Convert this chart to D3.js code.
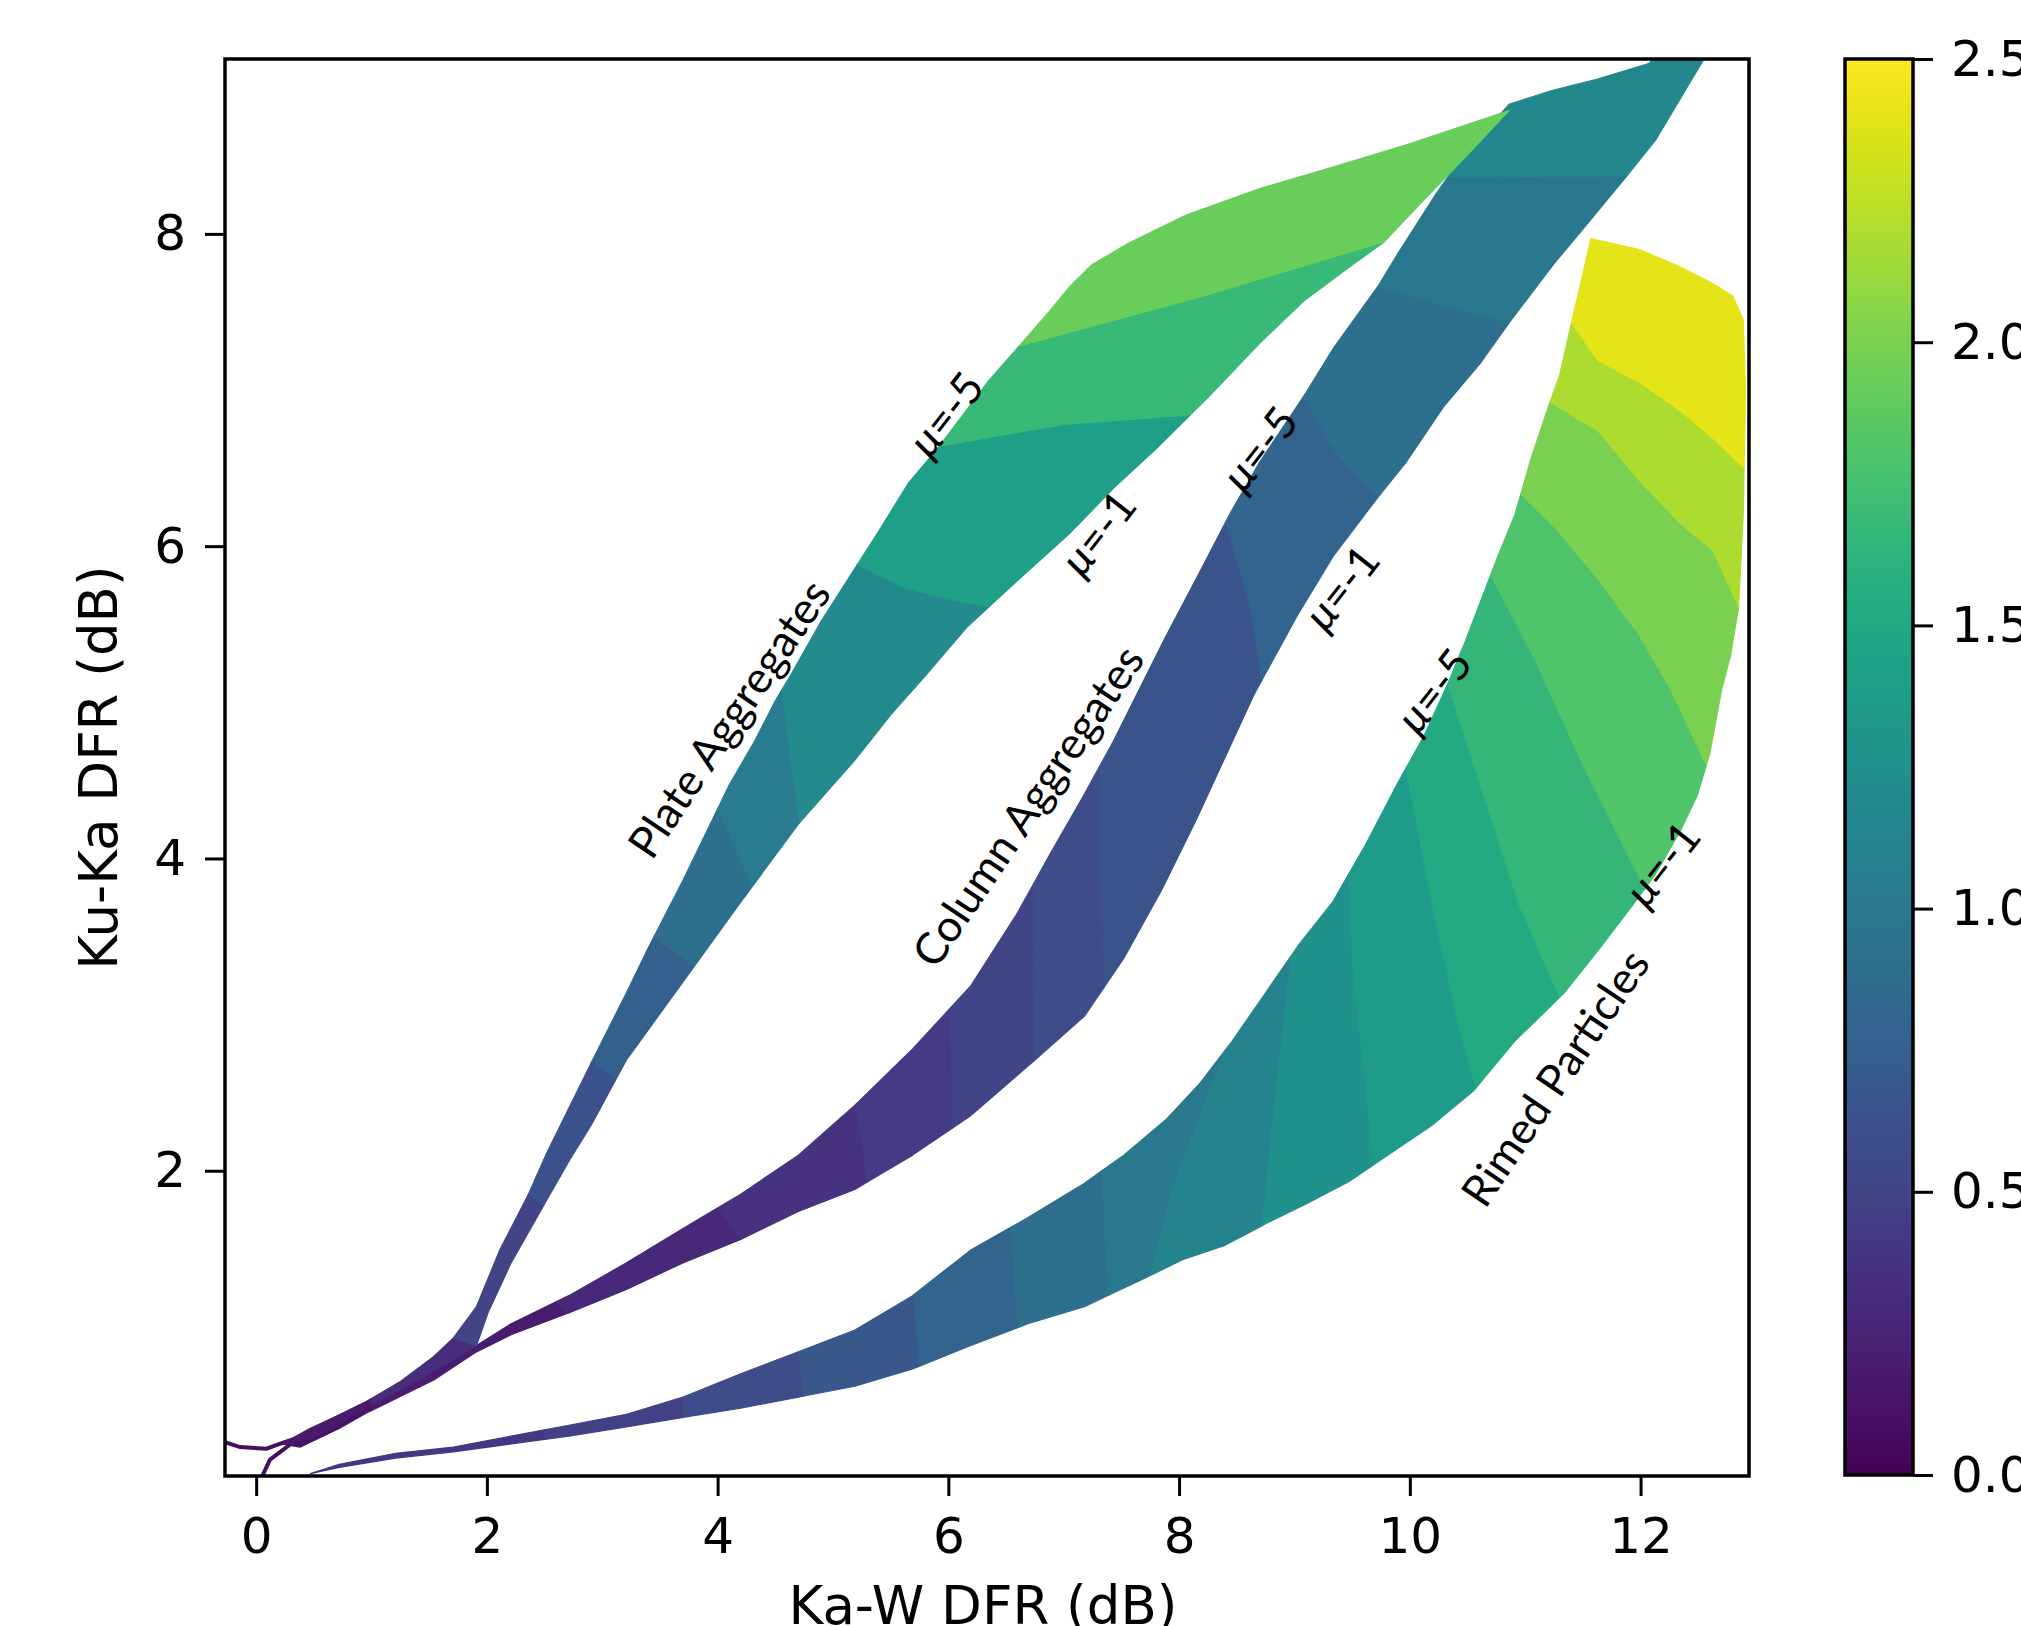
<!DOCTYPE html>
<html><head><meta charset="utf-8">
<script src="https://cdn.jsdelivr.net/npm/d3@7"></script>
<style>body{margin:0;background:#fff}</style>
</head><body>
<svg id="c" width="2021" height="1626" xmlns="http://www.w3.org/2000/svg"></svg>
<script>
// ---------- axes ----------
const xDomain = [-0.27, 12.94];
const yDomain = [0.045, 9.12];
const xTicks = [0, 2, 4, 6, 8, 10, 12];
const yTicks = [2, 4, 6, 8];
const cDomain = [0, 2.5];
const cTicks = [0, 0.5, 1, 1.5, 2, 2.5];

// ---------- Plate Aggregates (Ka-W DFR, Ku-Ka DFR) ----------
const plateM5 = [[0.22,0.25],[0.47,0.35],[0.67,0.42],[0.95,0.52],[1.25,0.65],[1.54,0.81],[1.71,0.93],[1.91,1.13],[2.11,1.49],[2.36,1.85],[2.51,2.10],[2.71,2.40],[2.91,2.70],[3.21,3.14],[3.40,3.43],[3.70,3.86],[4.10,4.47],[4.32,4.75],[4.50,5.01],[4.63,5.17],[4.89,5.51],[5.14,5.80],[5.40,6.10],[5.65,6.40],[5.90,6.62],[6.35,7.06],[6.60,7.27],[6.86,7.49],[7.05,7.66],[7.24,7.80],[7.56,7.94],[8.06,8.12],[8.70,8.29],[9.34,8.43],[9.97,8.57],[10.86,8.79]];
const plateM1 = [[0.22,0.25],[0.50,0.29],[1.00,0.50],[1.50,0.70],[1.91,0.88],[2.01,1.09],[2.21,1.41],[2.41,1.67],[2.71,2.06],[2.91,2.30],[3.21,2.71],[3.70,3.21],[4.20,3.72],[4.70,4.22],[5.19,4.63],[5.50,4.92],[5.80,5.17],[6.16,5.48],[6.54,5.74],[7.05,6.08],[7.43,6.37],[7.81,6.63],[8.26,6.96],[8.70,7.30],[9.08,7.57],[9.50,7.80],[9.78,7.95],[10.10,8.20],[10.48,8.49],[10.86,8.79]];
const plateBounds = [
  {a:[1.00,0.54], b:[1.00,0.50]},
  {a:[1.71,0.93], b:[1.91,0.88]},
  {a:[2.36,1.85], b:[2.50,1.78]},
  {a:[2.91,2.70], b:[3.10,2.60]},
  {a:[3.45,3.50], b:[3.80,3.31]},
  {a:[4.00,4.32], b:[4.30,3.82]},
  {a:[4.56,5.08], mid:[[4.63,4.65]], b:[4.71,4.23]},
  {a:[5.22,5.88], mid:[[5.60,5.74],[5.95,5.67]], b:[6.35,5.61]},
  {a:[5.92,6.64], mid:[[7.00,6.78]], b:[8.10,6.84]},
  {a:[6.62,7.28], mid:[[8.20,7.60]], b:[9.78,7.95]}
];
const plateValues = [0.18, 0.32, 0.50, 0.62, 0.76, 0.90, 1.03, 1.19, 1.40, 1.68, 1.93];

// ---------- Column Aggregates ----------
const columnM5 = [[0.22,0.25],[0.67,0.40],[1.25,0.60],[1.65,0.78],[1.91,0.88],[2.21,1.02],[2.71,1.20],[3.21,1.41],[3.70,1.63],[4.20,1.85],[4.70,2.10],[5.19,2.42],[5.69,2.78],[6.19,3.18],[6.59,3.64],[6.89,4.04],[7.17,4.40],[7.43,4.75],[7.87,5.40],[8.19,5.85],[8.45,6.22],[8.70,6.54],[9.08,6.96],[9.34,7.27],[9.72,7.66],[9.91,7.89],[10.23,8.26],[10.48,8.52],[10.86,8.83],[11.24,8.92],[11.62,8.99],[12.07,9.09],[12.30,9.25]];
const columnM1 = [[0.22,0.25],[0.38,0.23],[0.72,0.35],[0.96,0.45],[1.21,0.54],[1.54,0.66],[1.91,0.84],[2.21,0.95],[2.71,1.09],[3.21,1.24],[3.70,1.41],[4.20,1.56],[4.70,1.74],[5.19,1.88],[5.69,2.10],[6.19,2.35],[6.69,2.67],[7.18,2.99],[7.52,3.36],[7.85,3.80],[8.15,4.25],[8.40,4.65],[8.65,5.05],[9.02,5.55],[9.34,5.94],[9.72,6.31],[9.97,6.54],[10.29,6.89],[10.61,7.17],[10.86,7.43],[11.24,7.80],[11.50,8.03],[11.88,8.37],[12.13,8.60],[12.55,9.12],[12.62,9.25]];
const columnBounds = [
  {a:[1.00,0.53], b:[1.00,0.47]},
  {a:[2.60,1.16], b:[2.70,1.09]},
  {a:[4.00,1.76], b:[4.20,1.56]},
  {a:[5.20,2.43], b:[5.30,1.93]},
  {a:[6.04,3.03], b:[6.04,2.27]},
  {a:[6.74,3.84], b:[6.74,2.70]},
  {a:[7.30,4.58], b:[7.35,3.17]},
  {a:[8.40,6.16], mid:[[8.62,5.60]], b:[8.72,5.14]},
  {a:[9.08,6.96], mid:[[9.34,6.62]], b:[9.72,6.31]},
  {a:[9.72,7.66], b:[10.86,7.43]},
  {a:[10.35,8.36], b:[11.88,8.37]}
];
const columnValues = [0.13, 0.20, 0.28, 0.36, 0.43, 0.50, 0.57, 0.64, 0.80, 0.90, 1.00, 1.16];

// ---------- Rimed Particles ----------
const rimedM5 = [[0.47,0.06],[0.72,0.12],[1.21,0.19],[1.71,0.23],[2.21,0.30],[2.71,0.37],[3.21,0.44],[3.70,0.55],[4.20,0.70],[4.70,0.84],[5.19,0.98],[5.69,1.20],[6.19,1.49],[6.69,1.70],[7.18,1.92],[7.52,2.10],[7.89,2.33],[8.18,2.56],[8.46,2.83],[8.75,3.14],[9.04,3.45],[9.33,3.72],[9.61,4.08],[9.90,4.49],[10.12,4.78],[10.33,5.12],[10.48,5.39],[10.62,5.66],[10.76,5.93],[10.91,6.20],[11.05,6.56],[11.19,6.87],[11.30,7.10],[11.41,7.46],[11.48,7.68],[11.57,7.97]];
const rimedM1 = [[0.47,0.06],[0.72,0.10],[1.21,0.16],[1.71,0.20],[2.21,0.25],[2.71,0.30],[3.21,0.36],[3.70,0.42],[4.20,0.48],[4.70,0.55],[5.19,0.62],[5.69,0.73],[6.19,0.88],[6.69,1.02],[7.18,1.13],[7.67,1.30],[8.03,1.43],[8.39,1.52],[8.75,1.66],[9.11,1.79],[9.47,1.93],[9.83,2.11],[10.19,2.29],[10.55,2.51],[10.91,2.83],[11.34,3.14],[11.63,3.41],[11.91,3.68],[12.13,3.90],[12.34,4.17],[12.49,4.40],[12.60,4.67],[12.70,5.07],[12.78,5.30],[12.85,5.61],[12.89,6.20],[12.91,7.00],[12.89,7.45],[12.80,7.60],[12.63,7.68],[12.34,7.79],[11.99,7.90],[11.57,7.97]];
const rimedBounds = [
  {a:[2.50,0.34], b:[2.50,0.28]},
  {a:[3.70,0.55], b:[3.70,0.42]},
  {a:[4.70,0.84], b:[4.75,0.56]},
  {a:[5.70,1.21], b:[5.75,0.75]},
  {a:[6.55,1.64], b:[6.60,1.00]},
  {a:[7.33,2.00], b:[7.39,1.20]},
  {a:[8.39,2.77], mid:[[7.95,1.90]], b:[7.75,1.33]},
  {a:[8.97,3.38], mid:[[8.82,2.38]], b:[8.72,1.65]},
  {a:[9.47,3.90], mid:[[9.51,3.28],[9.61,2.60]], b:[9.69,2.04]},
  {a:[9.97,4.58], mid:[[10.19,3.72],[10.42,2.95]], b:[10.58,2.53]},
  {a:[10.33,5.12], mid:[[10.60,4.50],[10.95,3.70]], b:[11.30,3.11]},
  {a:[10.70,5.82], mid:[[11.10,5.25],[11.50,4.60]], b:[12.05,3.80]},
  {a:[10.98,6.33], mid:[[11.27,6.11],[11.63,5.79],[11.99,5.43],[12.27,5.07]], b:[12.56,4.60]},
  {a:[11.23,6.92], mid:[[11.63,6.74],[11.99,6.42],[12.34,6.15],[12.63,5.97]], b:[12.85,5.61]},
  {a:[11.41,7.43], mid:[[11.63,7.19],[11.99,7.05],[12.34,6.87],[12.63,6.69]], b:[12.90,6.50]}
];
const rimedValues = [0.40, 0.48, 0.57, 0.68, 0.80, 0.90, 1.00, 1.12, 1.25, 1.37, 1.52, 1.66, 1.81, 2.00, 2.19, 2.40];

// ---------- thin degenerate tails near origin ----------
const tailLineA = [[-0.30,0.27],[-0.14,0.23],[0.09,0.22],[0.24,0.26],[0.32,0.28]];
const tailLineB = [[0.05,0.04],[0.12,0.15],[0.21,0.20],[0.30,0.25]];
const tailValue = 0.08;

// ---------- annotations ----------
const labels = [
  {t:"Plate Aggregates", x:4.09, y:4.90, a:-56},
  {t:"Column Aggregates", x:6.68, y:4.34, a:-56},
  {t:"Rimed Particles", x:11.25, y:2.60, a:-56}
];
const muLabels = [
  {v:"-5", x:5.97, y:6.85, a:-52},
  {v:"-1", x:7.29, y:6.09, a:-52},
  {v:"-5", x:8.69, y:6.63, a:-52},
  {v:"-1", x:9.40, y:5.74, a:-52},
  {v:"-5", x:10.20, y:5.08, a:-52},
  {v:"-1", x:12.18, y:3.97, a:-52}
];

// ================= drawing =================
const svg = d3.select('#c');
const P = {l:225, r:1749, t:59, b:1476};
const x = d3.scaleLinear().domain(xDomain).range([P.l, P.r]);
const y = d3.scaleLinear().domain(yDomain).range([P.b, P.t]);
const cScale = d3.scaleLinear().domain(cDomain).range([1475, 59]);
const color = v => d3.interpolateViridis((v - cDomain[0]) / (cDomain[1] - cDomain[0]));

const defs = svg.append('defs');
defs.append('clipPath').attr('id','plotclip').append('rect')
  .attr('x',P.l).attr('y',P.t).attr('width',P.r-P.l).attr('height',P.b-P.t);

function project(line, p){
  let best = Infinity, bs = 0;
  const px = x(p[0]), py = y(p[1]);
  for (let i=0;i<line.length-1;i++){
    const ax=x(line[i][0]), ay=y(line[i][1]), bx=x(line[i+1][0]), by=y(line[i+1][1]);
    const dx=bx-ax, dy=by-ay, L=dx*dx+dy*dy;
    let t = L ? ((px-ax)*dx+(py-ay)*dy)/L : 0;
    t = Math.max(0, Math.min(1, t));
    const qx=ax+t*dx, qy=ay+t*dy, d=(px-qx)**2+(py-qy)**2;
    if (d < best){ best=d; bs=i+t; }
  }
  return bs;
}
function pointAt(line, s){
  const i = Math.min(Math.floor(s), line.length-2), t = s - i;
  const a=line[i], b=line[i+1];
  return [a[0]+(b[0]-a[0])*t, a[1]+(b[1]-a[1])*t];
}
function sub(line, s1, s2){
  const pts=[pointAt(line,s1)];
  for (let i=Math.ceil(s1); i<=Math.floor(s2); i++) if (i>s1 && i<s2) pts.push(line[i]);
  pts.push(pointAt(line,s2));
  return pts;
}
function bands(A, B, bounds, values){
  const bs = [{sa:0, sb:0, mid:[]}]
    .concat(bounds.map(d => ({sa:project(A,d.a), sb:project(B,d.b), mid:d.mid||[]})))
    .concat([{sa:A.length-1, sb:B.length-1, mid:[]}]);
  const out=[];
  for (let j=0;j<bs.length-1;j++){
    const lo=bs[j], hi=bs[j+1];
    const poly = sub(A, lo.sa, hi.sa)
      .concat(hi.mid)
      .concat(sub(B, lo.sb, hi.sb).reverse())
      .concat(lo.mid.slice().reverse());
    out.push({poly, v:values[j]});
  }
  return out;
}

const regions = [
  {A:rimedM5, B:rimedM1, bounds:rimedBounds, values:rimedValues},
  {A:columnM5, B:columnM1, bounds:columnBounds, values:columnValues},
  {A:plateM5, B:plateM1, bounds:plateBounds, values:plateValues}
];
const line = d3.line().x(d=>x(d[0])).y(d=>y(d[1]));
const gPlot = svg.append('g').attr('clip-path','url(#plotclip)');

[tailLineA, tailLineB].forEach(l => {
  gPlot.append('path').attr('d', line(l)).attr('fill','none')
    .attr('stroke', color(tailValue)).attr('stroke-width',4);
});

regions.forEach(r => {
  const bb = bands(r.A, r.B, r.bounds, r.values);
  gPlot.append('g').selectAll('path').data(bb).join('path')
    .attr('d', d => line(d.poly) + 'Z')
    .attr('fill', d => color(d.v))
    .attr('stroke', d => color(d.v))
    .attr('stroke-width', 1.2)
    .attr('stroke-linejoin','round');
});

// annotations
const annFont = "Lato, 'Open Sans', sans-serif";
labels.forEach(d => {
  svg.append('text').attr('transform',`translate(${x(d.x)},${y(d.y)}) rotate(${d.a})`)
    .attr('text-anchor','middle').attr('dominant-baseline','central')
    .attr('font-family',annFont).attr('font-size',44).attr('fill','#000').text(d.t);
});
muLabels.forEach(d => {
  const t = svg.append('text').attr('transform',`translate(${x(d.x)},${y(d.y)}) rotate(${d.a})`)
    .attr('text-anchor','middle').attr('dominant-baseline','central')
    .attr('font-family',annFont).attr('font-size',44).attr('fill','#000');
  t.append('tspan').attr('font-style','italic').text('μ');
  t.append('tspan').text('=' + d.v);
});

// axes
const tickFont = "'DejaVu Sans', sans-serif";
const gx = svg.append('g').attr('transform',`translate(0,${P.b})`)
  .call(d3.axisBottom(x).tickValues(xTicks).tickFormat(d3.format('d')).tickSize(20).tickPadding(21).tickSizeOuter(0));
const gy = svg.append('g').attr('transform',`translate(${P.l},0)`)
  .call(d3.axisLeft(y).tickValues(yTicks).tickFormat(d3.format('d')).tickSize(20).tickPadding(19).tickSizeOuter(0));
[gx, gy].forEach(g => {
  g.select('.domain').remove();
  g.selectAll('line').attr('stroke','#000').attr('stroke-width',3);
  g.selectAll('text').attr('font-family',tickFont).attr('font-size',50).attr('fill','#000');
});

svg.append('rect').attr('x',P.l).attr('y',P.t).attr('width',P.r-P.l).attr('height',P.b-P.t)
  .attr('fill','none').attr('stroke','#000').attr('stroke-width',3.5);

svg.append('text').attr('x',(P.l+P.r)/2 - 4).attr('y',1624).attr('text-anchor','middle')
  .attr('font-family',tickFont).attr('font-size',53).text('Ka-W DFR (dB)');
svg.append('text').attr('transform',`translate(117,${(P.t+P.b)/2}) rotate(-90)`).attr('text-anchor','middle')
  .attr('font-family',tickFont).attr('font-size',53).text('Ku-Ka DFR (dB)');

// colorbar
const CB = {l:1845, r:1913};
const grad = defs.append('linearGradient').attr('id','vir').attr('x1',0).attr('y1',1).attr('x2',0).attr('y2',0);
d3.range(0, 1.0001, 0.02).forEach(t => grad.append('stop').attr('offset',t).attr('stop-color',d3.interpolateViridis(t)));
svg.append('rect').attr('x',CB.l).attr('y',cScale(cDomain[1])).attr('width',CB.r-CB.l)
  .attr('height',cScale(cDomain[0])-cScale(cDomain[1])).attr('fill','url(#vir)');
const gc = svg.append('g').attr('transform',`translate(${CB.r},0)`)
  .call(d3.axisRight(cScale).tickValues(cTicks).tickFormat(d3.format('.1f')).tickSize(20).tickPadding(18).tickSizeOuter(0));
gc.select('.domain').remove();
gc.selectAll('line').attr('stroke','#000').attr('stroke-width',3);
gc.selectAll('text').attr('font-family',tickFont).attr('font-size',50).attr('fill','#000');
svg.append('rect').attr('x',CB.l).attr('y',cScale(cDomain[1])).attr('width',CB.r-CB.l)
  .attr('height',cScale(cDomain[0])-cScale(cDomain[1])).attr('fill','none').attr('stroke','#000').attr('stroke-width',3.5);
</script>
</body></html>
